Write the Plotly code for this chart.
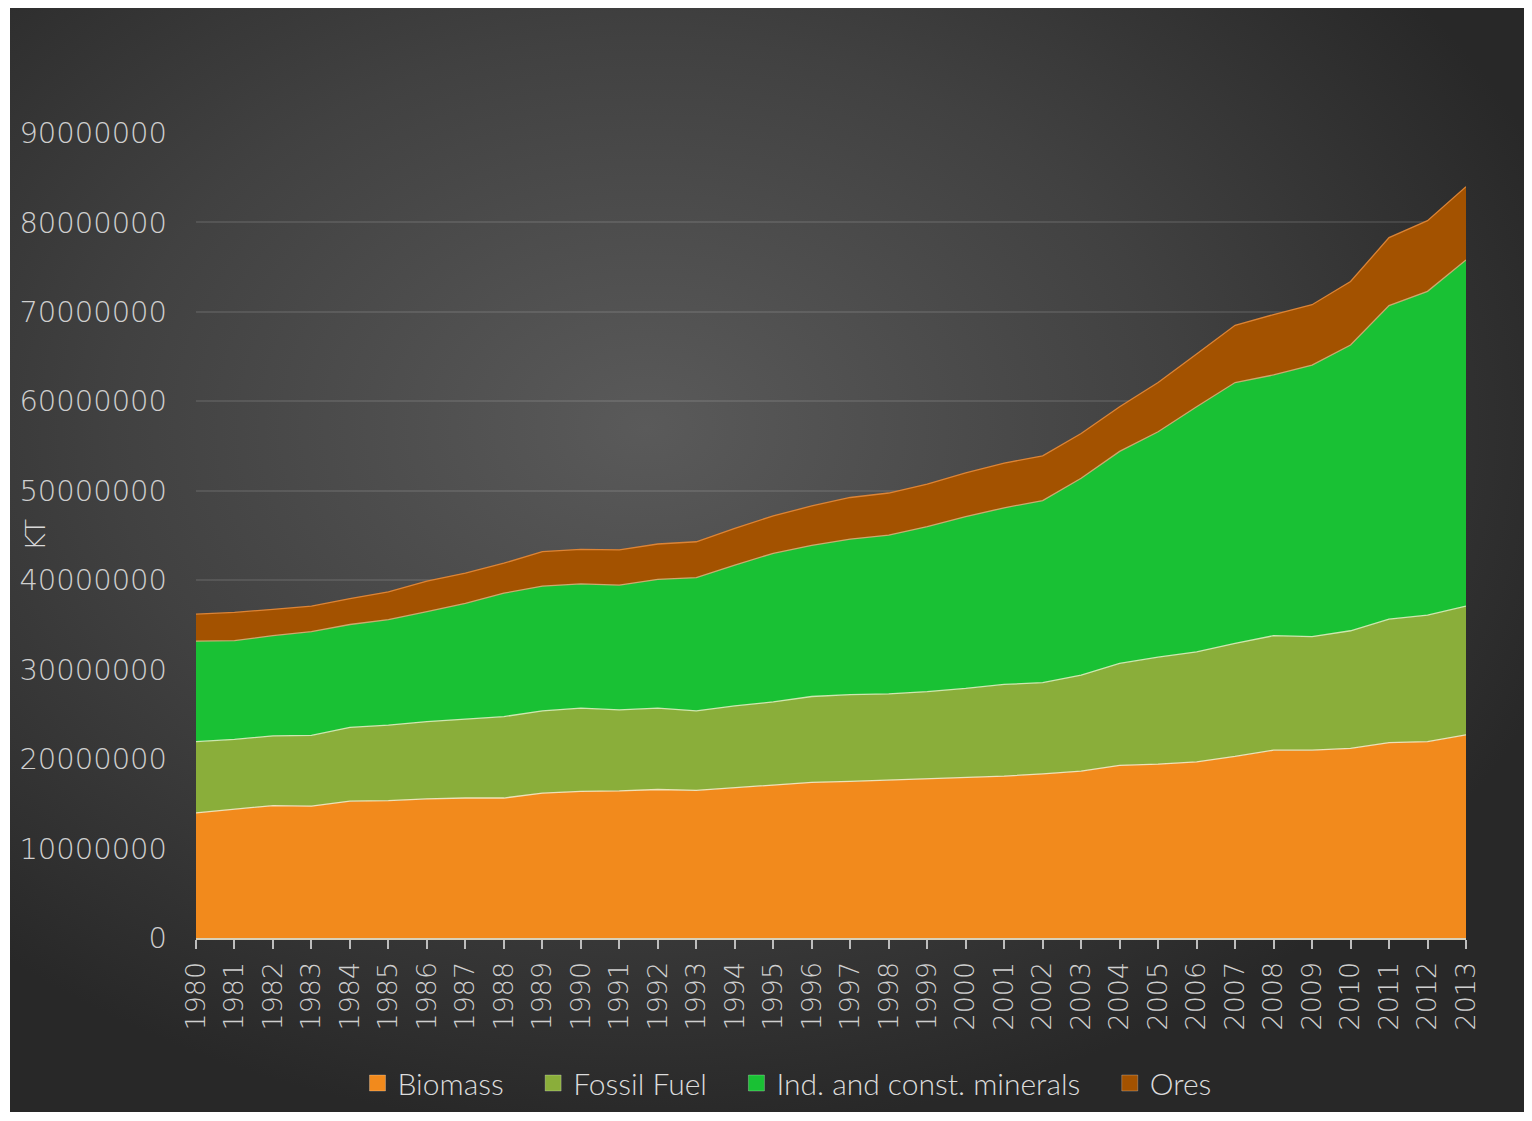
import base64
import plotly.graph_objects as go

years = [str(y) for y in range(1980, 2014)]

biomass = [14.0, 14.4, 14.8, 14.75, 15.3, 15.35, 15.55, 15.65, 15.65, 16.2,
           16.4, 16.45, 16.6, 16.5, 16.8, 17.1, 17.4, 17.5, 17.65, 17.8,
           17.95, 18.1, 18.35, 18.65, 19.3, 19.45, 19.7, 20.3, 21.0, 21.0,
           21.2, 21.85, 21.95, 22.7]
fossil_fuel = [7.95, 7.8, 7.8, 7.9, 8.25, 8.45, 8.65, 8.8, 9.1, 9.2,
               9.3, 9.05, 9.1, 8.9, 9.15, 9.3, 9.6, 9.7, 9.65, 9.75,
               9.95, 10.25, 10.2, 10.75, 11.4, 11.95, 12.3, 12.65, 12.8, 12.7,
               13.15, 13.8, 14.15, 14.4]
minerals = [11.25, 11.05, 11.2, 11.6, 11.5, 11.8, 12.3, 12.95, 13.8, 13.95,
            13.9, 13.95, 14.4, 14.9, 15.75, 16.6, 16.9, 17.4, 17.75, 18.45,
            19.2, 19.75, 20.35, 22.0, 23.7, 25.2, 27.4, 29.15, 29.15, 30.35,
            31.95, 35.05, 36.2, 38.7]
ores = [3.0, 3.15, 2.95, 2.85, 2.9, 3.1, 3.4, 3.4, 3.35, 3.85,
        3.85, 3.95, 3.95, 4.0, 4.1, 4.2, 4.4, 4.65, 4.7, 4.75,
        4.9, 5.0, 5.0, 5.0, 5.0, 5.5, 5.9, 6.4, 6.75, 6.75,
        7.1, 7.6, 7.9, 8.2]

series_names = ["Biomass", "Fossil Fuel", "Ind. and const. minerals", "Ores"]
series_values = [biomass, fossil_fuel, minerals, ores]
fill_colors = ["#F28A1C", "#8AAE3A", "#19C134", "#A35200"]
line_colors = ["rgba(245,235,200,0.9)", "rgba(220,240,190,0.9)",
               "rgba(215,175,120,0.9)", "rgba(225,135,55,0.95)"]

y_ticks = [0, 10000000, 20000000, 30000000, 40000000, 50000000,
           60000000, 70000000, 80000000, 90000000]

TICK_FONT = "'DejaVu Sans', sans-serif"
TEXT_FONT = "Lato, 'Open Sans', sans-serif"
PAD = "\u00a0\u00a0\u00a0"

fig = go.Figure()
for name, vals, fc, lc in zip(series_names, series_values, fill_colors, line_colors):
    fig.add_trace(go.Scatter(
        x=years, y=[v * 1e6 for v in vals], name=name,
        mode="lines", stackgroup="one", showlegend=False,
        line=dict(color=lc, width=1.3),
        fillcolor=fc,
    ))
# legend entries with square swatches
for i, (name, fc) in enumerate(zip(series_names, fill_colors)):
    label = name + (PAD if i < len(series_names) - 1 else "")
    fig.add_trace(go.Scatter(
        x=[None], y=[None], name=label, mode="markers",
        marker=dict(symbol="square", size=18, color=fc,
                    line=dict(color="rgba(255,255,255,0.25)", width=1)),
    ))

W, H = 1516, 1104
L, R, T, B = 188, 58, 125, 174
pw, ph = W - L - R, H - T - B

svg = ('<svg xmlns="http://www.w3.org/2000/svg" width="1514" height="1104" '
       'viewBox="0 0 100 100" preserveAspectRatio="none">'
       '<defs><radialGradient id="g" cx="0.42" cy="0.38" r="0.64">'
       '<stop offset="0" stop-color="#5a5a5a"/>'
       '<stop offset="0.55" stop-color="#414141"/>'
       '<stop offset="1" stop-color="#282828"/>'
       '</radialGradient></defs>'
       '<rect x="0" y="0" width="100" height="100" fill="url(#g)"/></svg>')
src = "data:image/svg+xml;base64," + base64.b64encode(svg.encode()).decode()

fig.add_layout_image(dict(
    source=src, xref="paper", yref="paper",
    x=(2 - L) / pw, y=(H - B) / ph,
    sizex=(W - 2) / pw, sizey=H / ph,
    xanchor="left", yanchor="top", sizing="stretch", layer="below",
))

fig.add_annotation(
    text="KT", xref="paper", yref="paper",
    x=(27 - L) / pw, y=(930 - 527) / ph, showarrow=False, textangle=-90,
    xanchor="center", yanchor="middle",
    font=dict(size=27, color="#d8d8d8", family=TICK_FONT, weight=200),
)

fig.update_layout(
    width=W, height=H,
    margin=dict(l=L, r=R, t=T, b=B, autoexpand=False),
    paper_bgcolor="white",
    plot_bgcolor="rgba(0,0,0,0)",
    font=dict(family=TEXT_FONT, color="#d4d4d4", size=27),
    showlegend=True,
    legend=dict(orientation="h", x=(779 - L) / pw, xanchor="center",
                y=(930 - 1075) / ph, yanchor="middle",
                font=dict(size=30, color="#dcdcdc", family=TEXT_FONT, weight=300),
                itemwidth=30, traceorder="normal", bgcolor="rgba(0,0,0,0)"),
    hovermode=False,
)
fig.update_xaxes(
    type="category", range=[0, 33], tickangle=-90, automargin=False,
    showgrid=False, showline=True, linecolor="#d8d0b8", linewidth=2,
    ticks="outside", ticklen=9, tickwidth=2, tickcolor="#bdbdbd",
    tickfont=dict(size=27, color="#cfcfcf", family=TICK_FONT, weight=200),
    ticklabelstandoff=2,
)
fig.update_yaxes(
    range=[0, 90000000], tickvals=y_ticks, ticktext=[str(v) for v in y_ticks],
    automargin=False,
    showgrid=True, gridcolor="rgba(255,255,255,0.10)", gridwidth=2,
    zeroline=False, showline=False, ticks="",
    tickfont=dict(size=29, color="#cfcfcf", family=TICK_FONT, weight=200),
    ticklabelstandoff=28,
)

fig.write_html("out.html")
